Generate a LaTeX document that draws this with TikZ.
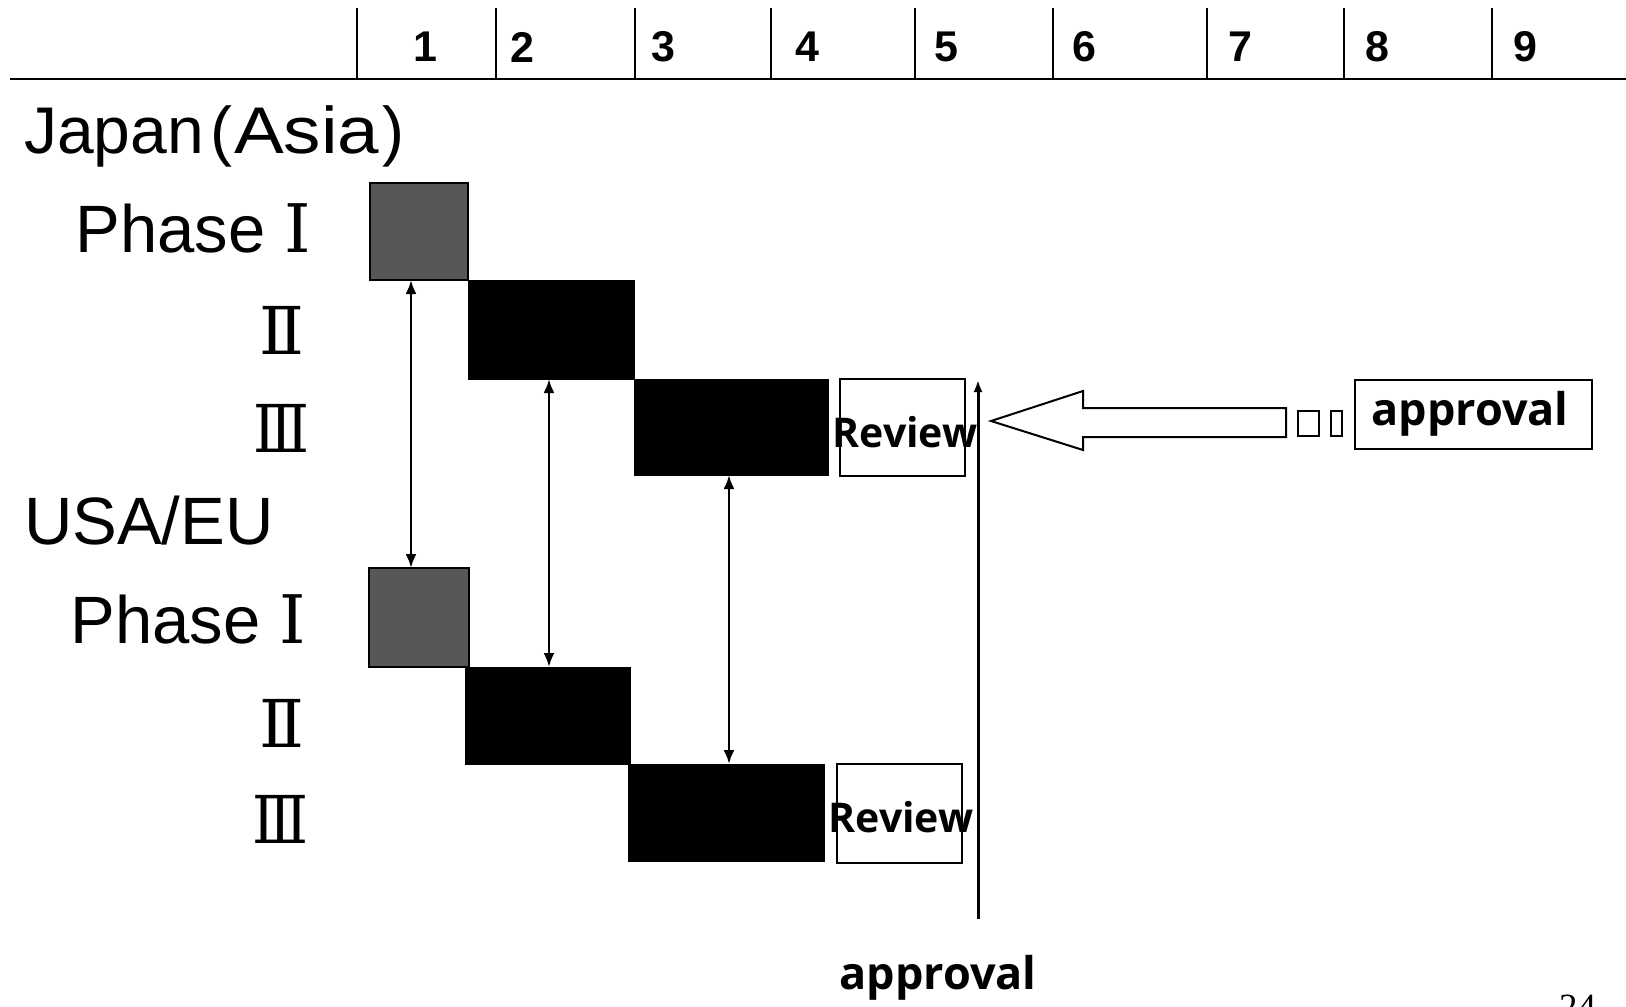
\documentclass[tikz,border=0pt]{standalone}
\usepackage{fontspec}
\setmainfont{Liberation Sans}
\newfontfamily\romfont{DejaVu Serif}
\newfontfamily\romfontn[FakeStretch=0.88]{DejaVu Serif}
\newfontfamily\fbfont{Liberation Serif}
\newfontfamily\wideasia[FakeStretch=1.13]{Liberation Sans}
\newfontfamily\revfont{Open Sans}
\newfontfamily\pagefont{Liberation Serif}
\newcommand\myrom[2]{{\romfont\iffontchar\font"#1\relax\char"#1\relax\else{\fbfont #2}\fi}}
\newcommand\myromn[2]{{\romfontn\iffontchar\font"#1\relax\char"#1\relax\else{\fbfont #2}\fi}}
\usetikzlibrary{arrows.meta}
\begin{document}
\begin{tikzpicture}[x=1pt,y=-1pt,
  lbl/.style={inner sep=0, anchor=base east, font=\fontsize{67}{80}\selectfont},
  rlbl/.style={inner sep=0, anchor=base east, font=\fontsize{66}{78}\selectfont},
  numlbl/.style={inner sep=0, font=\bfseries\fontsize{43}{50}\selectfont},
  graybox/.style={draw=black, line width=1.5pt, fill=black!66, inner sep=0, outer sep=0},
  blackbox/.style={draw=black, fill=black, inner sep=0, outer sep=0},
  revbox/.style={draw=black, line width=1.3pt, fill=white, inner sep=0, outer sep=0},
  revtxt/.style={inner sep=0, font=\revfont\bfseries\fontsize{41}{48}\selectfont},
  dbl/.style={line width=2.6pt, {Latex[length=14pt,width=11pt]}-{Latex[length=14pt,width=11pt]}},
  tick/.style={line width=1.5pt},
]
\useasboundingbox (0,0) rectangle (1626,1007);
\fill[white] (0,0) rectangle (1626,1007);

% time axis
\draw[line width=2.5pt] (10,79) -- (1626,79);
\foreach \x in {357,496,635,771,915,1053,1207,1344,1492}
  \draw[tick] (\x,8) -- (\x,79);
\node[numlbl] (n1) at (425,47) {1};
\node[numlbl] (n2) at (522,47) {2};
\node[numlbl] (n3) at (663,47) {3};
\node[numlbl] (n4) at (807,47) {4};
\node[numlbl] (n5) at (946,47) {5};
\node[numlbl] (n6) at (1084,47) {6};
\node[numlbl] (n7) at (1240,47) {7};
\node[numlbl] (n8) at (1377,47) {8};
\node[numlbl] (n9) at (1525,47) {9};

% row labels
\node[inner sep=0, anchor=base west, font=\fontsize{66}{78}\selectfont] (jp) at (24,153)
  {Japan\kern7pt(\kern1pt{\wideasia Asia}\kern3pt)};
\node[inner sep=0, anchor=base west, font=\fontsize{67}{80}\selectfont] (us) at (24,544) {USA/EU};
\node[lbl] (jpI) at (311,252) {Phase \myrom{2160}{I}};
\node[rlbl] (jpII) at (305,354) {\myrom{2161}{II}};
\node[rlbl] (jpIII) at (310,452) {\myromn{2162}{III}};
\node[lbl] (usI) at (306,643) {Phase \myrom{2160}{I}};
\node[rlbl] (usII) at (305,747) {\myrom{2161}{II}};
\node[rlbl] (usIII) at (309,843) {\myromn{2162}{III}};

% Japan bars
\node[graybox, minimum width=98, minimum height=97] (j1) at (419,231.5) {};
\node[blackbox, minimum width=166, minimum height=99] (j2) at (551,329.5) {};
\node[blackbox, minimum width=194, minimum height=96] (j3) at (731,427) {};
\node[revbox, minimum width=125, minimum height=97] (jr) at (902.5,427.5) {};
\node[revtxt] (jrt) at (905,432) {Review};

% USA/EU bars
\node[graybox, minimum width=100, minimum height=99] (u1) at (419,617.5) {};
\node[blackbox, minimum width=165, minimum height=97] (u2) at (547.5,715.5) {};
\node[blackbox, minimum width=196, minimum height=97] (u3) at (726,812.5) {};
\node[revbox, minimum width=125, minimum height=99] (ur) at (899.5,813.5) {};
\node[revtxt] (urt) at (901,817) {Review};

% linking arrows
\draw[dbl] ([xshift=-8pt]j1.south) -- ([xshift=-8pt]u1.north);
\draw[dbl] ([xshift=-2pt]j2.south) -- ([xshift=1.5pt]u2.north);
\draw[dbl] ([xshift=-2pt]j3.south) -- ([xshift=3pt]u3.north);

% approval line
\coordinate (ab) at (978,919);
\coordinate (at) at (978,380);
\draw[line width=3pt, -{Latex[length=12pt,width=9pt]}] (ab) -- (at);

% hollow arrow and approval box
\draw[line width=2pt, fill=white, line join=miter]
  (991,421) -- (1083,391) -- (1083,408) -- (1286,408) -- (1286,437) -- (1083,437) -- (1083,450) -- cycle;
\draw[line width=2pt] (1298,411) rectangle (1319,436);
\draw[line width=2pt] (1331,411) rectangle (1342,436);
\node[draw=black, line width=1.3pt, inner sep=0, minimum width=237, minimum height=69] (ap) at (1473.5,414.5) {};
\node[revtxt, font=\revfont\bfseries\fontsize{45}{52}\selectfont] (apt) at (1470,414) {approval};

\node[revtxt, font=\revfont\bfseries\fontsize{45}{52}\selectfont] (apb) at (938,978) {approval};

\node[inner sep=0, anchor=base west, font=\pagefont\fontsize{37}{44}\selectfont] (pg) at (1559,1019) {24};
\end{tikzpicture}
\end{document}
